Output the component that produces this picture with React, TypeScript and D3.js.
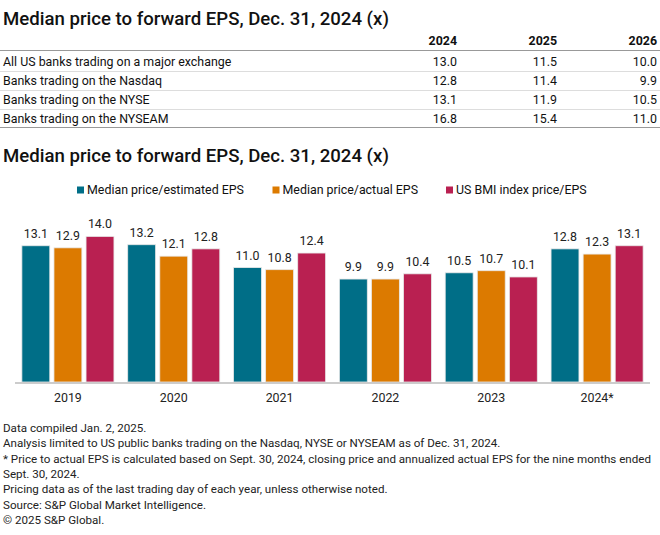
import React from "react";
import * as d3 from "d3";

const years = ["2019", "2020", "2021", "2022", "2023", "2024*"];
const seriesNames = ["Median price/estimated EPS", "Median price/actual EPS", "US BMI index price/EPS"];
const estimatedEPS = [13.1, 13.2, 11.0, 9.9, 10.5, 12.8];
const actualEPS = [12.9, 12.1, 10.8, 9.9, 10.7, 12.3];
const bmiEPS = [14.0, 12.8, 12.4, 10.4, 10.1, 13.1];
const colors = ["#006e87", "#dc7a00", "#b92051"];

const tableCols = ["2024", "2025", "2026"];
const tableRows = [
  "All US banks trading on a major exchange",
  "Banks trading on the Nasdaq",
  "Banks trading on the NYSE",
  "Banks trading on the NYSEAM",
];
const table2024 = ["13.0", "12.8", "13.1", "16.8"];
const table2025 = ["11.5", "11.4", "11.9", "15.4"];
const table2026 = ["10.0", "9.9", "10.5", "11.0"];

const title = "Median price to forward EPS, Dec. 31, 2024 (x)";
const footnotes = [
  "Data compiled Jan. 2, 2025.",
  "Analysis limited to US public banks trading on the Nasdaq, NYSE or NYSEAM as of Dec. 31, 2024.",
  "* Price to actual EPS is calculated based on Sept. 30, 2024, closing price and annualized actual EPS for the nine months ended",
  "Sept. 30, 2024.",
  "Pricing data as of the last trading day of each year, unless otherwise noted.",
  "Source: S&P Global Market Intelligence.",
  "© 2025 S&P Global.",
];

const FONT = "Roboto, 'Noto Sans', sans-serif";

export default function App() {
  const W = 660, H = 535;
  const series = [estimatedEPS, actualEPS, bmiEPS];
  const baseline = 382;
  const y = d3.scaleLinear().domain([0, 14]).range([baseline, baseline - 145.6]);
  const x0 = d3.scaleBand().domain(years).range([15, 650]).paddingInner(0.13).paddingOuter(0.065);
  const x1 = d3.scaleBand().domain(["0", "1", "2"]).range([0, x0.bandwidth()]).paddingInner(0.13);

  const colX = [457, 557, 657];
  const colVals = [table2024, table2025, table2026];
  const rowY = [61, 80.5, 99.5, 118.5];
  const sepY = [71, 90, 109];

  const legendX = [77, 272.5, 446];

  return (
    <svg width={W} height={H} style={{ position: "absolute", left: 0, top: 0, background: "#fff" }} fontFamily={FONT}>
      <text x={3} y={25} fontSize={18.6} fontWeight={500} fill="#111">{title}</text>
      {tableCols.map((c, i) => (
        <text key={c} x={colX[i]} y={45} fontSize={12.4} fontWeight={700} textAnchor="end" fill="#111">{c}</text>
      ))}
      <line x1={0} x2={660} y1={50.5} y2={50.5} stroke="#999" strokeWidth={1} />
      {tableRows.map((r, i) => (
        <g key={r}>
          <text x={3} y={rowY[i] + 4.5} fontSize={12.4} fill="#111">{r}</text>
          {colVals.map((vals, j) => (
            <text key={j} x={colX[j]} y={rowY[i] + 4.5} fontSize={12.4} textAnchor="end" fill="#111">{vals[i]}</text>
          ))}
        </g>
      ))}
      {sepY.map((s) => (
        <line key={s} x1={0} x2={660} y1={s + 0.5} y2={s + 0.5} stroke="#ddd" strokeWidth={1} />
      ))}
      <line x1={0} x2={660} y1={127.5} y2={127.5} stroke="#999" strokeWidth={1} />

      <text x={3} y={162} fontSize={18.6} fontWeight={500} fill="#111">{title}</text>

      {seriesNames.map((n, i) => (
        <g key={n}>
          <rect x={legendX[i]} y={186.5} width={7} height={7} fill={colors[i]} />
          <text x={legendX[i] + 10} y={193.5} fontSize={12.4} fill="#111">{n}</text>
        </g>
      ))}

      {years.map((yr, gi) => (
        <g key={yr} transform={`translate(${x0(yr)},0)`}>
          {series.map((s, si) => {
            const bx = x1(String(si))!;
            const top = y(s[gi]);
            return (
              <g key={si}>
                <rect x={bx} y={top} width={x1.bandwidth()} height={baseline - top} fill={colors[si]} stroke="#e8e8e8" strokeWidth={0.8} />
                <text x={bx + x1.bandwidth() / 2} y={top - 8} fontSize={12.4} textAnchor="middle" fill="#222">{s[gi].toFixed(1)}</text>
              </g>
            );
          })}
          <text x={x0.bandwidth() / 2} y={401.5} fontSize={12.4} textAnchor="middle" fill="#222">{yr}</text>
        </g>
      ))}
      <line x1={15} x2={650} y1={baseline + 1} y2={baseline + 1} stroke="#ccc" strokeWidth={2} />

      {footnotes.map((f, i) => {
        const ys = [431.5, 447, 462.5, 477.5, 493, 508.5, 523.5];
        return (
          <text key={i} x={3} y={ys[i]} fontSize={11.6} fill="#222"
            {...(i === 2 ? { textLength: 648, lengthAdjust: "spacing" } : {})}>{f}</text>
        );
      })}
    </svg>
  );
}
